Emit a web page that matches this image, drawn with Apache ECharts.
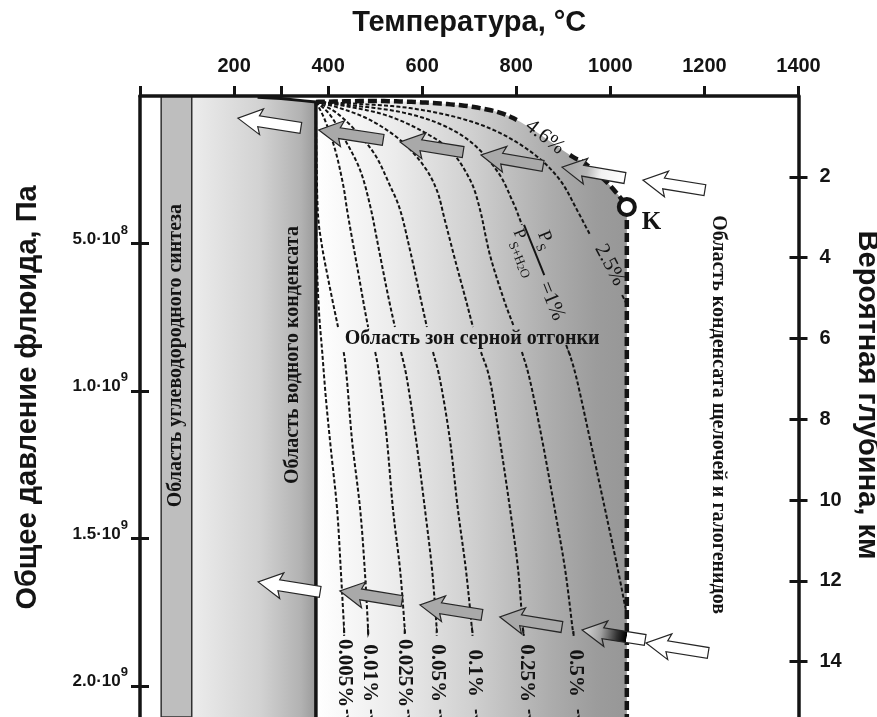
<!DOCTYPE html>
<html><head><meta charset="utf-8"><title>chart</title>
<script src="https://cdn.jsdelivr.net/npm/echarts@6.0.0/dist/echarts.min.js"></script>
<style>html,body{margin:0;padding:0;background:#ffffff;overflow:hidden;}#chart{width:877px;height:717px;}</style>
</head><body><div id="chart"></div>
<script>
// Units: temperature °C, pressure in 10^8 Pa, depth in km
const tempTicks = [200, 400, 600, 800, 1000, 1200, 1400];
const tempTickMarks = [0, 200, 300, 400, 600, 800, 1000, 1200, 1400];
const pressureTicks = [5, 10, 15, 20];
const depthTicks = [2, 4, 6, 8, 10, 12, 14];
const pressureMax = 21.05;
const depthMax = 15.37;

const hydrocarbonBandT = [45, 110];
const waterCriticalT = 374;
const boilingCurve = [[110, 0], [200, 0.016], [250, 0.04], [300, 0.086], [350, 0.165], [374, 0.2]];
const pointK = [1035, 3.76];

// isolines of Ps/(Ps+H2O); null = gap (label)
const iso0005 = [[374,0.2],[374,3.5],[376,5.6],[380.5,7.3],[387,8.6],[395.5,10.3],[406,12.0],[419,14.0],[427,16.1],[434,18.1],[434,18.3],null,[440,20.8],[442,21.05]];
const iso001 = [[374,0.2],[375,1.8],[378,3.9],[386,5.0],[400,6.2],[421,7.83],null,[433,8.68],[440,9.63],[451,11.7],[468,14.0],[478,16.1],[485,18.1],[485,18.3],null,[491,20.8],[493,21.05]];
const iso0025 = [[374,0.2],[393,0.81],[415,1.83],[432,3.02],[442,4.03],[463,5.9],[485,7.83],null,[500,8.68],[510,9.63],[525,11.66],[538,14.03],[553,16.07],[563,18.1],[563,18.3],null,[570,20.8],[572,21.05]];
const iso005 = [[374,0.2],[404,0.64],[436,1.49],[468,2.51],[489,3.70],[504,4.88],[525,6.58],[542,7.83],null,[555,8.68],[568,9.63],[587,11.66],[606,14.03],[621,16.07],[631,18.1],[631,18.3],null,[638,20.8],[640,21.05]];
const iso01 = [[374,0.2],[415,0.54],[457,1.15],[500,2.0],[531,3.02],[553,3.86],[574,5.22],[595,6.75],[610,7.83],null,[623,8.68],[638,9.63],[659,11.66],[676,14.03],[693,16.07],[706,18.1],[707,18.3],null,[714,20.8],[716,21.05]];
const iso025 = [[374,0.2],[425,0.41],[489,0.81],[553,1.49],[602,2.34],[631,3.19],[648,4.20],[670,5.56],[693,6.92],[708,7.83],null,[725,8.68],[744,9.63],[765,11.66],[787,14.03],[804,16.07],[814,18.1],[816,18.3],null,[827,20.8],[829,21.05]];
const iso05 = [[374,0.2],[436,0.34],[521,0.64],[595,1.15],[659,1.83],[702,2.85],[723,3.86],[744,5.39],[774,6.92],[795,7.83],null,[812,8.68],[829,9.63],[855,11.66],[882,14.03],[904,16.07],[920,18.1],[922,18.3],null,[931,20.8],[933,21.05]];
const iso1 = [[374,0.2],[446,0.31],[553,0.54],[638,0.95],[706,1.59],[761,2.58],[791,3.53],[812,4.37],null,[906,8.44],[914,8.78],[929,9.63],[957,11.66],[989,14.03],[1014,15.9],[1035,17.59]];
const iso25 = [[374,0.2],[468,0.27],[574,0.41],[680,0.75],[765,1.25],[840,2.0],[893,2.85],[929,3.86],[957,4.71],null,[1025,6.75],[1035,7.05]];
const boundary46 = [[374,0.2],[510,0.17],[623,0.24],[723,0.41],[801,0.81],null,[914,2.0],[942,2.24],[988,2.85],[1020,3.42],[1035,3.76]];

const isoLabels = ['0.005%', '0.01%', '0.025%', '0.05%', '0.1%', '0.25%', '0.5%'];
const isoLabelT = [435, 487, 562, 633, 710, 821, 926];
const isoLabelP = 19.56;

// arrows: [headT, headP, tailT, tailP]
const arrowsUpper = [[208,0.75,342,1.08],[380,1.15,517,1.49],[553,1.56,687,1.90],[725,2.00,857,2.37],[897,2.41,1031,2.78],[1069,2.85,1201,3.19]];
const arrowsUpperKind = ['white','gray','gray','gray','fadeGray','white'];
const arrowsLower = [[251,16.47,383,16.81],[425,16.78,557,17.12],[595,17.25,727,17.59],[765,17.66,897,18.0],[940,18.10,1074,18.44],[1076,18.54,1208,18.88]];
const arrowsLowerKind = ['white','gray','gray','gray','fadeDark','white'];

const SANS = "'Liberation Sans', Arial, sans-serif";
const SERIF = "'Liberation Serif', 'Times New Roman', serif";
const INK = '#141414';

const regionLabels = [
  {text: 'Область углеводородного синтеза', at: [77, 8.8], rot: 90},
  {text: 'Область водного конденсата', at: [325, 8.78], rot: 90},
  {text: 'Область зон серной отгонки', at: [706, 8.24], rot: 0},
  {text: 'Область конденсата щелочей и галогенидов', at: [1229, 10.8], rot: -90}
];
const curveLabels = [
  {text: '4.6%', at: [861, 1.39], rot: -38},
  {text: '2.5%', at: [999, 5.73], rot: -62}
];
const fractionAnchor = [838, 5.22];

function catmull(pts, i, n) {
  const p0 = pts[Math.max(i - 1, 0)], p1 = pts[i], p2 = pts[i + 1], p3 = pts[Math.min(i + 2, pts.length - 1)];
  const out = [];
  for (let k = 0; k <= n; k++) {
    const t = k / n, t2 = t * t, t3 = t2 * t;
    out.push([0, 1].map(j => 0.5 * (2 * p1[j] + (p2[j] - p0[j]) * t + (2 * p0[j] - 5 * p1[j] + 4 * p2[j] - p3[j]) * t2 + (3 * p1[j] - p0[j] - 3 * p2[j] + p3[j]) * t3)));
  }
  return out;
}
function curveGeometry(raw, toPx) {
  const pts = [], gapAfter = {};
  raw.forEach(p => { if (p === null) { if (pts.length) gapAfter[pts.length - 1] = true; } else pts.push(toPx(p)); });
  const full = [pts[0]], pieces = []; let cur = [pts[0]];
  for (let i = 0; i < pts.length - 1; i++) {
    const seg = catmull(pts, i, 14).slice(1);
    full.push(...seg);
    if (gapAfter[i]) { if (cur.length > 1) pieces.push(cur); cur = [pts[i + 1]]; }
    else cur.push(...seg);
  }
  if (cur.length > 1) pieces.push(cur);
  return {full, pieces};
}

function renderRegions(params, api) {
  const c = p => api.coord(p);
  const t0 = hydrocarbonBandT[0], t1 = hydrocarbonBandT[1];
  const band = [c([t0, 0]), c([t1, 0]), c([t1, pressureMax]), c([t0, pressureMax])];
  const water = boilingCurve.map(c).concat([c([waterCriticalT, pressureMax]), c([t1, pressureMax])]);
  const bnd = curveGeometry(boundary46, c).full;
  const sulfur = [c([waterCriticalT, pressureMax])].concat(bnd, [c([pointK[0], pressureMax])]);
  const x110 = c([t1, 0])[0], x374 = c([waterCriticalT, 0])[0], xK = c([pointK[0], 0])[0];
  return {type: 'group', children: [
    {type: 'polygon', shape: {points: sulfur}, style: {stroke: 'none', fill: {type: 'linear', x: x374, y: 0, x2: xK, y2: 0, global: true,
      colorStops: [{offset: 0, color: '#ffffff'}, {offset: 0.25, color: '#ececec'}, {offset: 0.5, color: '#d0d0d0'}, {offset: 0.75, color: '#adadad'}, {offset: 0.9, color: '#9c9c9c'}, {offset: 1, color: '#979797'}]}}},
    {type: 'polygon', shape: {points: water}, style: {stroke: 'none', fill: {type: 'linear', x: x110, y: 0, x2: x374, y2: 0, global: true,
      colorStops: [{offset: 0, color: '#ececec'}, {offset: 0.55, color: '#d2d2d2'}, {offset: 0.88, color: '#b2b2b2'}, {offset: 1, color: '#9a9a9a'}]}}},
    {type: 'polygon', shape: {points: band}, style: {fill: '#bebebe', stroke: '#303030', lineWidth: 1.5}}
  ]};
}

function renderLines(params, api) {
  const c = p => api.coord(p);
  const children = [];
  [iso0005, iso001, iso0025, iso005, iso01, iso025, iso05, iso1, iso25].forEach(raw => {
    curveGeometry(raw, c).pieces.forEach(pts => children.push({type: 'polyline', shape: {points: pts},
      style: {fill: 'none', stroke: INK, lineWidth: 2, lineDash: [4, 2.2]}}));
  });
  children.push({type: 'polyline', shape: {points: boilingCurve.filter(p => p[0] >= 250).map(c)}, style: {fill: 'none', stroke: INK, lineWidth: 3}});
  const a = c([waterCriticalT, boilingCurve[boilingCurve.length - 1][1]]), b = c([waterCriticalT, pressureMax]);
  children.push({type: 'line', shape: {x1: a[0], y1: a[1], x2: b[0], y2: b[1]}, style: {stroke: INK, lineWidth: 3.5}});
  curveGeometry(boundary46, c).pieces.forEach(pts => children.push({type: 'polyline', shape: {points: pts},
    style: {fill: 'none', stroke: INK, lineWidth: 4.5, lineDash: [9, 4]}}));
  const k = c(pointK), kb = c([pointK[0], pressureMax]);
  children.push({type: 'line', shape: {x1: k[0], y1: k[1], x2: kb[0], y2: kb[1]}, style: {stroke: INK, lineWidth: 4.5, lineDash: [9, 4]}});
  return {type: 'group', children};
}

function arrowPoly(h, t) {
  const dx = t[0] - h[0], dy = t[1] - h[1], L = Math.hypot(dx, dy);
  const ux = dx / L, uy = dy / L, nx = -uy, ny = ux;
  const HL = 21, HW = 13, SW = 5.5, SB = 3;
  const P = (s, q) => [h[0] + ux * s + nx * q, h[1] + uy * s + ny * q];
  return [P(0, 0), P(HL + SB, HW), P(HL, SW), P(L, SW), P(L, -SW), P(HL, -SW), P(HL + SB, -HW)];
}
function arrowFill(kind, h, t) {
  if (kind === 'white') return '#ffffff';
  if (kind === 'gray') return '#a9a9a9';
  const stops = kind === 'fadeGray'
    ? [{offset: 0, color: '#a4a4a4'}, {offset: 0.4, color: '#b8b8b8'}, {offset: 0.62, color: '#f2f2f2'}, {offset: 1, color: '#ffffff'}]
    : [{offset: 0, color: '#dcdcdc'}, {offset: 0.3, color: '#a0a0a0'}, {offset: 0.55, color: '#333333'}, {offset: 0.7, color: '#000000'}, {offset: 0.71, color: '#ffffff'}, {offset: 1, color: '#ffffff'}];
  return {type: 'linear', x: h[0], y: h[1], x2: t[0], y2: t[1], global: true, colorStops: stops};
}
function renderArrows(params, api) {
  const children = [];
  const add = (list, kinds) => list.forEach((a, i) => {
    const h = api.coord([a[0], a[1]]), t = api.coord([a[2], a[3]]);
    children.push({type: 'polygon', shape: {points: arrowPoly(h, t)}, style: {fill: arrowFill(kinds[i], h, t), stroke: '#262626', lineWidth: 1.2}});
  });
  add(arrowsUpper, arrowsUpperKind);
  add(arrowsLower, arrowsLowerKind);
  return {type: 'group', children};
}

function textEl(p, text, rot, font) {
  return {type: 'text', x: p[0], y: p[1], rotation: rot * Math.PI / 180,
    style: {text, font, fill: INK, align: 'center', verticalAlign: 'middle'}};
}
function renderLabels(params, api) {
  const c = p => api.coord(p);
  const children = [];
  regionLabels.forEach(r => children.push(textEl(c(r.at), r.text, r.rot, 'bold 20px ' + SERIF)));
  isoLabels.forEach((s, i) => children.push(textEl(c([isoLabelT[i], isoLabelP]), s, -90, 'bold 21px ' + SERIF)));
  curveLabels.forEach(r => children.push(textEl(c(r.at), r.text, r.rot, '21px ' + SERIF)));
  const f = c(fractionAnchor);
  const rich = {
    p: {fontFamily: SERIF, fontSize: 19, fill: INK, lineHeight: 24, verticalAlign: 'top'},
    q: {fontFamily: SERIF, fontSize: 17, fill: INK, lineHeight: 22, verticalAlign: 'top'},
    s: {fontFamily: SERIF, fontSize: 13, fill: INK, lineHeight: 22, verticalAlign: 'bottom'},
    t: {fontFamily: SERIF, fontSize: 10, fill: INK, lineHeight: 25, verticalAlign: 'bottom'}
  };
  children.push({type: 'group', x: f[0], y: f[1], rotation: -68 * Math.PI / 180, children: [
    {type: 'text', x: -5, y: -12, style: {text: '{p|P}{s|S}', rich, align: 'center', verticalAlign: 'middle', fill: INK}},
    {type: 'line', shape: {x1: -27, y1: 0, x2: 27, y2: 0}, style: {stroke: INK, lineWidth: 2}},
    {type: 'text', x: -1, y: 12, style: {text: '{q|P}{s|S+H}{t|2}{s|O}', rich, align: 'center', verticalAlign: 'middle', fill: INK}},
    {type: 'text', x: 54, y: 3, style: {text: '=1%', font: '21px ' + SERIF, align: 'center', verticalAlign: 'middle', fill: INK}}
  ]});
  return {type: 'group', children};
}

function pressureLabel(v) {
  if (!v) return '';
  const big = v >= 10;
  return '{m|' + (big ? v / 10 : v).toFixed(1) + '·10}{s|' + (big ? 9 : 8) + '}';
}

const axisLineStyle = {color: INK, width: 3.5};
const tickStyle = {color: INK, width: 3};
const chart = echarts.init(document.getElementById('chart'));
chart.setOption({
  animation: false,
  backgroundColor: '#ffffff',
  grid: {left: 140, right: 78.5, top: 96, bottom: 0, containLabel: false, outerBoundsMode: 'none'},
  xAxis: [{
    type: 'value', position: 'top', min: 0, max: 1400, interval: 200, z: 10,
    name: 'Температура, °С', nameLocation: 'middle', nameGap: 59,
    nameTextStyle: {fontFamily: SANS, fontWeight: 'bold', fontSize: 29, color: INK},
    axisLine: {show: true, onZero: false, lineStyle: axisLineStyle},
    axisTick: {show: true, inside: false, length: 10, customValues: tempTickMarks, lineStyle: tickStyle},
    axisLabel: {show: true, customValues: tempTicks, margin: 20, fontFamily: SANS, fontWeight: 'bold', fontSize: 20, color: INK, formatter: v => v ? String(v) : ''},
    splitLine: {show: false}
  }],
  yAxis: [{
    type: 'value', position: 'left', min: 0, max: pressureMax, interval: 5, inverse: true, z: 10,
    name: 'Общее давление флюида, Па', nameLocation: 'middle', nameGap: 98, nameRotate: 90,
    nameTextStyle: {fontFamily: SANS, fontWeight: 'bold', fontSize: 29, color: INK, padding: [0, 0, 0, 18]},
    axisLine: {show: true, onZero: false, lineStyle: axisLineStyle},
    axisTick: {show: true, inside: false, length: 9, customValues: pressureTicks, lineStyle: tickStyle},
    axisLabel: {show: true, customValues: pressureTicks, margin: 12, formatter: pressureLabel, padding: [0, 0, 16, 0],
      rich: {m: {fontFamily: SANS, fontWeight: 'bold', fontSize: 17, color: INK, lineHeight: 24, verticalAlign: 'bottom'},
             s: {fontFamily: SANS, fontWeight: 'bold', fontSize: 13, color: INK, lineHeight: 24, verticalAlign: 'top'}}},
    splitLine: {show: false}
  }, {
    type: 'value', position: 'left', min: 0, max: pressureMax, interval: 5, inverse: true, z: 10,
    axisLine: {show: false, onZero: false},
    axisTick: {show: true, inside: true, length: 9, customValues: pressureTicks, lineStyle: tickStyle},
    axisLabel: {show: false}, splitLine: {show: false}
  }, {
    type: 'value', position: 'right', min: 0, max: depthMax, interval: 2, inverse: true, z: 10,
    name: 'Вероятная глубина, км', nameLocation: 'middle', nameGap: 53, nameRotate: -90,
    nameTextStyle: {fontFamily: SANS, fontWeight: 'bold', fontSize: 29, color: INK, padding: [0, 23, 0, 0]},
    axisLine: {show: true, onZero: false, lineStyle: axisLineStyle},
    axisTick: {show: true, inside: false, length: 9, customValues: depthTicks, lineStyle: tickStyle},
    axisLabel: {show: true, customValues: depthTicks, margin: 21, padding: [0, 0, 14, 0], fontFamily: SANS, fontWeight: 'bold', fontSize: 20, color: INK, formatter: v => v ? String(v) : ''},
    splitLine: {show: false}
  }, {
    type: 'value', position: 'right', min: 0, max: depthMax, interval: 2, inverse: true, z: 10,
    axisLine: {show: false, onZero: false},
    axisTick: {show: true, inside: true, length: 9, customValues: depthTicks, lineStyle: tickStyle},
    axisLabel: {show: false}, splitLine: {show: false}
  }],
  series: [
    {type: 'custom', name: 'regions', xAxisIndex: 0, yAxisIndex: 0, data: [[0, 0]], renderItem: renderRegions, silent: true, z: 1, clip: false},
    {type: 'custom', name: 'lines', xAxisIndex: 0, yAxisIndex: 0, data: [[0, 0]], renderItem: renderLines, silent: true, z: 2, clip: true},
    {type: 'custom', name: 'arrows', xAxisIndex: 0, yAxisIndex: 0, data: [[0, 0]], renderItem: renderArrows, silent: true, z: 3, clip: false},
    {type: 'custom', name: 'labels', xAxisIndex: 0, yAxisIndex: 0, data: [[0, 0]], renderItem: renderLabels, silent: true, z: 4, clip: false},
    {type: 'scatter', name: 'K', xAxisIndex: 0, yAxisIndex: 0, data: [pointK], symbol: 'circle', symbolSize: 16, z: 5,
      itemStyle: {color: '#ffffff', borderColor: INK, borderWidth: 4, opacity: 1},
      label: {show: true, formatter: 'K', position: 'right', distance: 5, offset: [0, 16], fontFamily: SERIF, fontWeight: 'bold', fontSize: 25, color: INK}}
  ]
});
</script>
</body></html>
